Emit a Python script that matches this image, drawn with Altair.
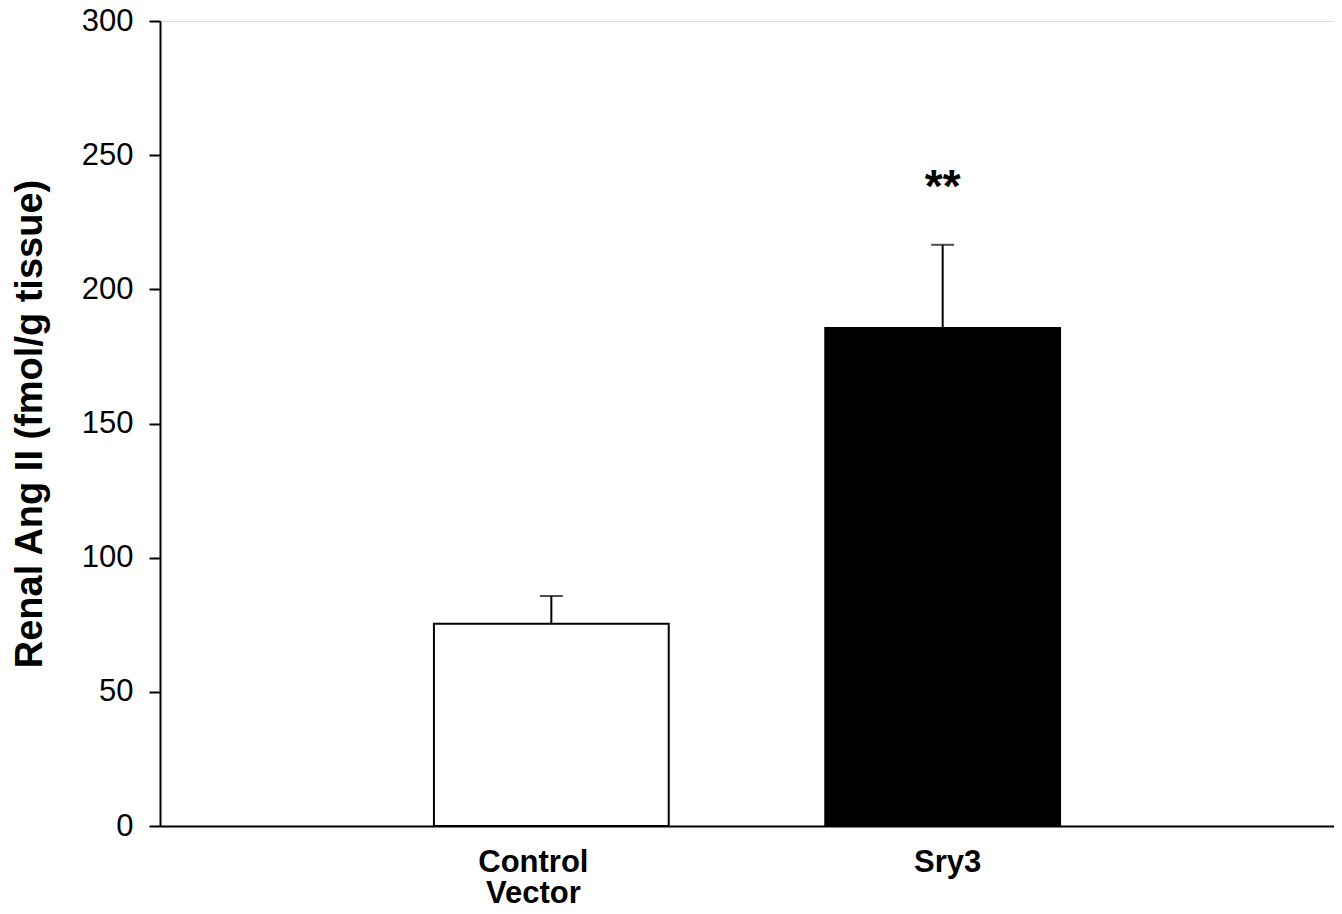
import altair as alt
import pandas as pd

groups = ["Control Vector", "Sry3"]
means = [75.4, 185.6]
sem = [10.3, 31.0]
fills = ["white", "black"]
sig_text = ["", "**"]
sig_y = [240, 240]

df = pd.DataFrame({
    "group": groups,
    "mean": means,
    "upper": [m + s for m, s in zip(means, sem)],
    "sig": sig_text,
    "sig_y": sig_y,
})

FONT = "Liberation Sans"

x_enc = alt.X(
    "group:N",
    sort=groups,
    scale=alt.Scale(paddingInner=0.4, paddingOuter=0.7),
    axis=alt.Axis(
        title=None,
        labelAngle=0,
        ticks=False,
        tickSize=0,
        domain=True,
        domainColor="black",
        domainWidth=2,
        grid=False,
        labelFont=FONT,
        labelFontSize=31,
        labelFontWeight="bold",
        labelColor="black",
        labelPadding=21,
        labelLineHeight=31,
        labelBaseline="top",
        labelOffset={"condition": {"test": "datum.value == 'Control Vector'", "value": -18}, "value": 5},
        labelExpr="datum.label == 'Control Vector' ? ['Control', 'Vector'] : datum.label",
    ),
)

y_scale = alt.Scale(domain=[0, 300], nice=False, zero=True)

bars = alt.Chart(df).mark_bar(stroke="black", strokeWidth=2).encode(
    x=x_enc,
    y=alt.Y(
        "mean:Q",
        scale=y_scale,
        axis=alt.Axis(
            values=[0, 50, 100, 150, 200, 250, 300],
            title="Renal Ang II (fmol/g tissue)",
            titleFont=FONT,
            titleFontSize=38,
            titleFontWeight="bold",
            titleColor="black",
            titleX=-130,
            titleBaseline="middle",
            labelFont=FONT,
            labelFontSize=31,
            labelColor="black",
            labelPadding=16,
            tickSize=11,
            tickColor="black",
            tickWidth=2,
            domainColor="black",
            domainWidth=2,
            grid=False,
        ),
    ),
    fill=alt.Fill("group:N", scale=alt.Scale(domain=groups, range=fills), legend=None),
)

err = alt.Chart(df).mark_rule(color="black", strokeWidth=2).encode(
    x=alt.X("group:N", sort=groups),
    y=alt.Y("mean:Q", scale=y_scale),
    y2="upper:Q",
)

caps = alt.Chart(df).mark_tick(color="black", thickness=2, size=23, orient="horizontal").encode(
    x=alt.X("group:N", sort=groups),
    y=alt.Y("upper:Q", scale=y_scale),
)

stars = alt.Chart(df).mark_text(
    font=FONT, fontSize=46, fontWeight="bold", color="black", baseline="middle", dy=6
).encode(
    x=alt.X("group:N", sort=groups),
    y=alt.Y("sig_y:Q", scale=y_scale),
    text="sig:N",
)

chart = (
    alt.layer(bars, err, caps, stars)
    .properties(
        width=1174,
        height=805,
        autosize=alt.AutoSizeParams(type="none"),
        padding={"left": 152, "top": 13, "right": 0, "bottom": 80},
    )
    .configure_view(stroke="transparent", strokeWidth=0)
    .configure_axis(grid=False)
    .configure(background="white")
)

chart.save("out.html", embed_options={"renderer": "svg", "actions": False})
